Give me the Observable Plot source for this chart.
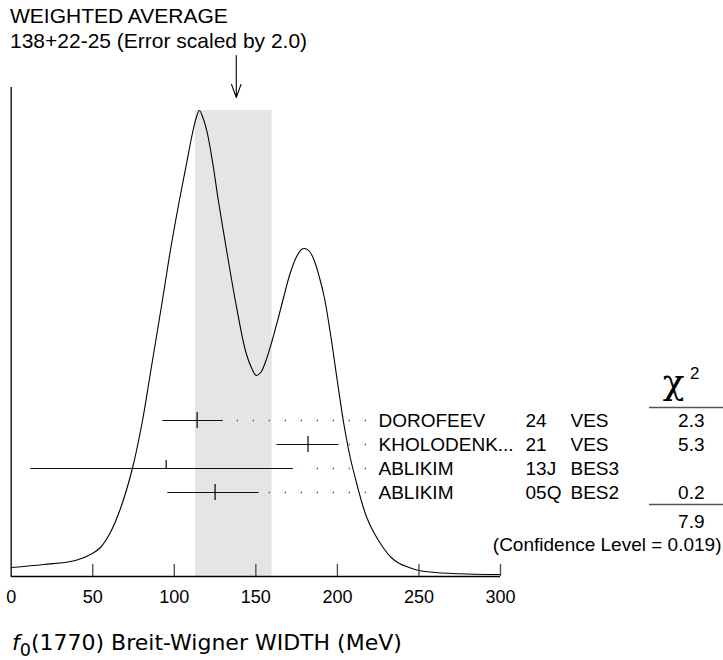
<!DOCTYPE html>
<html><head><meta charset="utf-8">
<script src="https://cdn.jsdelivr.net/npm/d3@7"></script>
<script src="https://cdn.jsdelivr.net/npm/@observablehq/plot@0.6"></script>
<style>
body{margin:0;background:#fff;font-family:"Liberation Sans",Arial,sans-serif;color:#000}
#wrap{width:723px;height:660px;overflow:hidden}
#title{padding:3px 0 0 10px;font-size:21px;line-height:25px;height:50px;white-space:nowrap}
#chart svg{display:block}
#caption{font-family:"DejaVu Sans",sans-serif;font-size:22px;padding:3px 0 0 12px;line-height:40px;height:37px;white-space:nowrap}
#caption sub{font-size:0.8em;vertical-align:-0.35em;line-height:0}
</style></head><body>
<div id="wrap">
<div id="title"></div>
<div id="chart"></div>
<div id="caption"><i>f</i><sub>0</sub>(1770) Breit-Wigner WIDTH (MeV)</div>
</div>
<script>
// ---- data ----
const names = ["DOROFEEV", "KHOLODENK...", "ABLIKIM", "ABLIKIM"];
const years = ["24", "21", "13J", "05Q"];
const experiments = ["VES", "VES", "BES3", "BES2"];
const values = [114, 182, 95, 125];
const lows = [93, 163, 12, 96];
const highs = [130, 201, 173, 152];
const chi2 = ["2.3", "5.3", "", "0.2"];
const usedInAverage = [true, true, false, true];
const avgValue = 138, avgPlus = 22, avgMinus = 25, errorScale = 2.0;
const chi2Total = "7.9";
const confidenceLevel = "0.019";
const xTicks = [0, 50, 100, 150, 200, 250, 300];
// ideogram curve (x in MeV, height in arbitrary units)
const curveX = [0, 20, 39.4, 49.8, 54.7, 60.8, 67, 74.3, 80.4, 85.4, 92.7, 97.6, 103.1, 107.4, 111.1, 113.5, 115.4, 117.5, 120.3, 123.9, 127, 132.5, 137.4, 143.6, 147, 150.3, 153, 156, 160, 164, 167, 171, 175, 178, 180, 183, 186, 189, 192, 196, 200, 204, 208, 212, 215, 218, 222, 228, 233, 238, 244, 250, 260, 280, 300];
const curveY = [9, 12, 16, 23, 29, 44, 68, 108, 155, 204, 276, 326, 376, 412, 443, 459, 466, 459, 443, 410, 376, 322, 276, 226, 210, 201, 204, 215, 236, 260, 279, 303, 320, 327, 328, 325, 315, 299, 279, 240, 195, 152, 118, 92, 74, 59, 45, 29, 19, 13, 9, 6, 4, 2.5, 2];

// ---- layout ----
const W = 723, H = 567, mL = 10.7, mR = 223, mT = 34, mB = 44;
const hMax = H - mT - mB;
const xs = d3.scaleLinear([0, 300], [mL, W - mR]);
const rowTop = 156, rowStep = 24;

document.getElementById("title").innerHTML =
  `WEIGHTED AVERAGE<br>${avgValue}+${avgPlus}-${avgMinus} (Error scaled by ${errorScale.toFixed(1)})`;

const meas = names.map((n, i) => ({
  name: n, year: years[i], exp: experiments[i], value: values[i],
  lo: lows[i], hi: highs[i], chi2: chi2[i], used: usedInAverage[i],
  row: rowTop - rowStep * i
}));
const curve = curveX.map((x, i) => ({x, y: curveY[i]}));
const peak = d3.max(curveY);
const dotsRight = xs.invert(366);

const txt = {fontSize: 19, frameAnchor: "right", fill: "#000"};

const chart = Plot.plot({
  width: W, height: H,
  marginLeft: mL, marginRight: mR, marginTop: mT, marginBottom: mB,
  x: {domain: [0, 300], axis: null},
  y: {domain: [0, hMax], axis: null},
  style: {fontFamily: "Liberation Sans, Arial, sans-serif", background: "#fff", overflow: "visible"},
  marks: [
    Plot.rect([avgValue], {x1: d => d - avgMinus, x2: d => d + avgPlus, y1: 0, y2: peak, fill: "#e5e5e5"}),
    Plot.line(curve, {x: "x", y: "y", curve: "catmull-rom", stroke: "#000", strokeWidth: 1.1}),
    Plot.ruleY([0], {stroke: "#000", strokeWidth: 1.3}),
    Plot.ruleX([0], {stroke: "#000", strokeWidth: 1.3}),
    Plot.ruleX(xTicks.slice(1), {x: d => d, y1: 0, y2: 12, stroke: "#444", strokeWidth: 1.3}),
    Plot.text(xTicks, {x: d => d, y: 0, dy: 21, text: d => String(d), fontSize: 18, lineAnchor: "middle", fill: "#000"}),
    Plot.arrow([avgValue], {x1: d => d, x2: d => d, y1: hMax + 32, y2: hMax - 10, headAngle: 40, headLength: 19, stroke: "#000", strokeWidth: 1.1}),
    // leader dots
    Plot.ruleY(meas, {y: "row", x1: () => dotsRight, x2: d => xs.invert(xs(d.hi) + 9), stroke: "#555", strokeWidth: 1.3, strokeDasharray: "1.3,14.7"}),
    // error bars
    Plot.ruleY(meas, {y: "row", x1: "lo", x2: "hi", stroke: "#111", strokeWidth: 1.2}),
    Plot.ruleX(meas, {x: "value", y1: d => d.used ? d.row - 8 : d.row, y2: d => d.row + 8, stroke: "#000", strokeWidth: 1.2}),
    // labels
    Plot.text(meas, {...txt, y: "row", text: "name", dx: -122, textAnchor: "start"}),
    Plot.text(meas, {...txt, y: "row", text: "year", dx: 25, textAnchor: "start"}),
    Plot.text(meas, {...txt, y: "row", text: "exp", dx: 70, textAnchor: "start"}),
    Plot.text(meas, {...txt, y: "row", text: "chi2", dx: 204, textAnchor: "end"}),
    // chi2 column
    Plot.text(["χ"], {frameAnchor: "right", y: 194, dx: 184, text: d => d, fontSize: 36, fontFamily: "DejaVu Serif, serif", fill: "#000"}),
    Plot.text(["2"], {frameAnchor: "right", y: 203, dx: 199, text: d => d, fontSize: 17, fill: "#000"}),
    Plot.ruleY([rowTop + 13], {x1: () => xs.invert(649), x2: () => xs.invert(723), stroke: "#555", strokeWidth: 1.5}),
    Plot.ruleY([rowTop - rowStep * 3 - 12], {x1: () => xs.invert(649), x2: () => xs.invert(723), stroke: "#555", strokeWidth: 1.5}),
    Plot.text([chi2Total], {...txt, y: 55, dx: 204, text: d => d, textAnchor: "end"}),
    Plot.text([`(Confidence Level = ${confidenceLevel})`], {...txt, y: 32, dx: 221, text: d => d, textAnchor: "end"})
  ]
});
document.getElementById("chart").appendChild(chart);
</script>
</body></html>
